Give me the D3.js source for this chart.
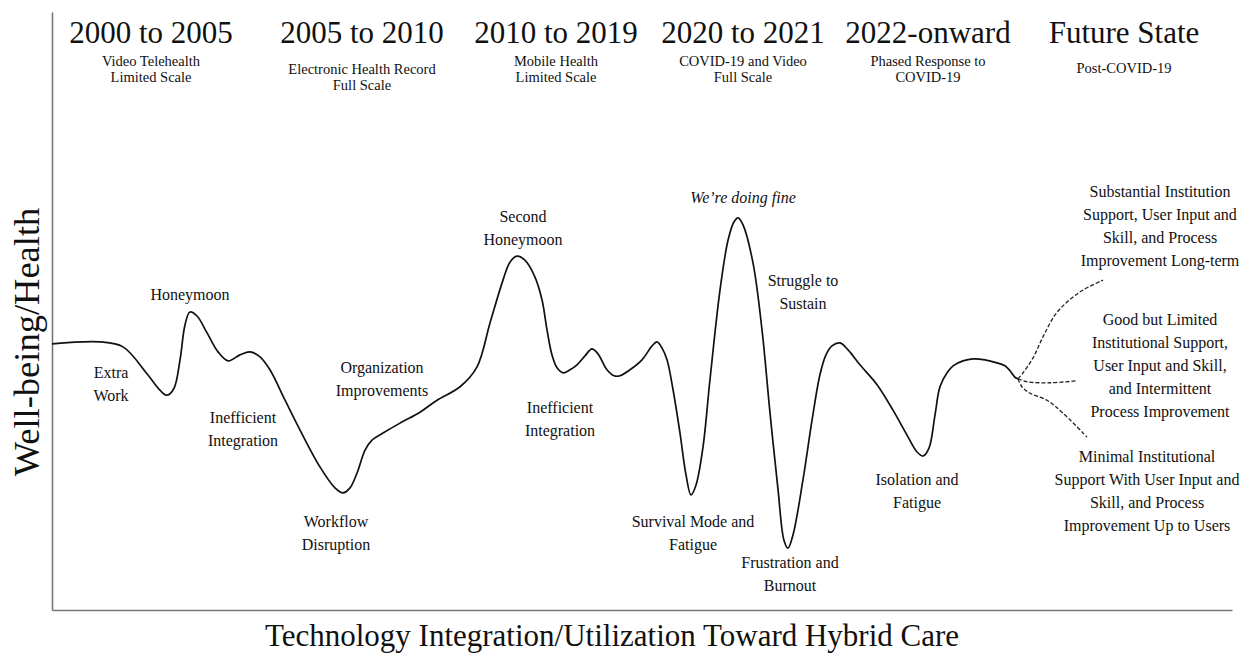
<!DOCTYPE html>
<html>
<head>
<meta charset="utf-8">
<script src="https://cdn.jsdelivr.net/npm/d3@7"></script>
<style>
  body { margin: 0; background: #fff; }
  text { font-family: "Liberation Serif", "Times New Roman", serif; fill: #111; }
</style>
</head>
<body>
<div id="canevas"></div>
<script>
// ---------------------------------------------------------------- données
// progression (0-100) and well-being level (0-12) along the main curve
const progression = [0, 4.07, 6.02, 8.05, 9.15, 9.75, 10.34, 10.85, 11.27, 11.69, 12.29, 13.14, 14.07, 14.92,
  15.93, 16.78, 17.63, 18.47, 19.75, 21.02, 22.71, 23.98, 24.66, 25.25, 25.85, 26.53, 27.12, 28.05, 29.49,
  31.19, 32.63, 34.58, 36.02, 37.12, 38.22, 38.81, 39.41, 40.08, 40.93, 41.53, 41.95, 42.37, 42.80, 43.31,
  43.90, 44.49, 45.17, 45.76, 46.27, 47.03, 47.63, 48.14, 48.98, 50.00, 50.85, 51.27, 51.69, 52.12, 52.63,
  53.22, 53.73, 54.15, 54.58, 55.17, 55.76, 56.61, 57.29, 57.80, 58.14, 58.56, 59.41, 60.17, 60.85, 61.53,
  62.03, 62.37, 62.80, 63.64, 64.41, 65.08, 65.59, 66.10, 66.78, 67.46, 68.47, 69.92, 71.27, 72.46, 73.31,
  73.81, 74.32, 74.83, 75.25, 75.85, 76.36, 77.20, 78.05, 79.07, 80.08, 80.76, 81.19, 81.61, 81.86];
const bienEtre = [5.34, 5.38, 5.28, 4.74, 4.41, 4.31, 4.45, 5.02, 5.72, 5.98, 5.90, 5.56, 5.18, 5.00,
  5.12, 5.18, 5.08, 4.82, 4.21, 3.61, 2.87, 2.45, 2.35, 2.45, 2.75, 3.21, 3.41, 3.55, 3.75,
  3.97, 4.21, 4.48, 4.88, 5.76, 6.62, 6.98, 7.10, 7.02, 6.68, 6.22, 5.62, 5.12, 4.86, 4.76,
  4.82, 4.92, 5.10, 5.24, 5.14, 4.82, 4.70, 4.70, 4.82, 5.02, 5.30, 5.38, 5.26, 5.02, 4.42,
  3.55, 2.71, 2.31, 2.51, 3.27, 4.62, 6.42, 7.42, 7.79, 7.87, 7.73, 6.96, 5.62, 3.95, 2.41,
  1.40, 1.24, 1.51, 2.61, 3.81, 4.72, 5.12, 5.30, 5.36, 5.22, 4.92, 4.52, 4.01, 3.51, 3.17,
  3.09, 3.25, 3.91, 4.48, 4.76, 4.90, 5.00, 5.04, 5.02, 4.96, 4.90, 4.80, 4.67, 4.64];

// future scenarios (dashed)
const futurHautX = [81.86, 82.29, 83.14, 83.98, 85.00, 86.02, 87.37, 89.07];
const futurHautY = [4.64, 4.76, 5.06, 5.48, 5.92, 6.18, 6.42, 6.62];
const futurMilieuX = [81.86, 82.63, 84.58, 86.86];
const futurMilieuY = [4.64, 4.58, 4.56, 4.60];
const futurBasX = [81.86, 82.20, 82.88, 84.32, 85.68, 87.71];
const futurBasY = [4.64, 4.48, 4.35, 4.21, 3.95, 3.47];

// périodes
const periodes = ["2000 to 2005", "2005 to 2010", "2010 to 2019", "2020 to 2021", "2022-onward", "Future State"];
const sousTitres = [
  ["Video Telehealth", "Limited Scale"],
  ["Electronic Health Record", "Full Scale"],
  ["Mobile Health", "Limited Scale"],
  ["COVID-19 and Video", "Full Scale"],
  ["Phased Response to", "COVID-19"],
  ["Post-COVID-19"]
];

// étiquettes le long de la courbe
const etiquettes = [
  ["Extra", "Work"],
  ["Honeymoon"],
  ["Inefficient", "Integration"],
  ["Organization", "Improvements"],
  ["Workflow", "Disruption"],
  ["Second", "Honeymoon"],
  ["Inefficient", "Integration"],
  ["We\u2019re doing fine"],
  ["Struggle to", "Sustain"],
  ["Survival Mode and", "Fatigue"],
  ["Frustration and", "Burnout"],
  ["Isolation and", "Fatigue"],
  ["Substantial Institution", "Support, User Input and", "Skill, and Process", "Improvement Long-term"],
  ["Good but Limited", "Institutional Support,", "User Input and Skill,", "and Intermittent", "Process Improvement"],
  ["Minimal Institutional", "Support With User Input and", "Skill, and Process", "Improvement Up to Users"]
];

// ---------------------------------------------------------------- mise en page
const largeur = 1249;
const hauteur = 655;
const gauche = 52, droite = 1232, haut = 12, bas = 610;

const posPeriodes = [151, 362, 556, 743, 928, 1124];
const ySousTitres = [66, 74, 66, 66, 66, 73];
const posEtiquettes = [
  [111, 378], [190, 300], [243, 423], [382, 373], [336, 527], [523, 222], [560, 413],
  [743, 203], [803, 286], [693, 527], [790, 568], [917, 485], [1160, 197], [1160, 325], [1147, 462]
];

const canevas = d3.select("#canevas")
  .append("svg")
  .attr("width", largeur)
  .attr("height", hauteur);

canevas.append("rect")
  .attr("width", "100%")
  .attr("height", "100%")
  .attr("fill", "#ffffff");

// echelles
const echelleX = d3.scaleLinear().domain([0, 100]).range([gauche, droite]);
const echelleY = d3.scaleLinear().domain([0, 12]).range([bas, haut]);

// axes (no ticks, just the lines)
canevas.append("g")
  .attr("transform", `translate(0,${bas})`)
  .call(d3.axisBottom(echelleX).tickValues([]).tickSizeOuter(0))
  .select(".domain").attr("stroke", "#777").attr("stroke-width", 1.6);

canevas.append("g")
  .attr("transform", `translate(${gauche},0)`)
  .call(d3.axisLeft(echelleY).tickValues([]).tickSizeOuter(0))
  .select(".domain").attr("stroke", "#777").attr("stroke-width", 1.6);

// courbe
const ligne = d3.line()
  .x(d => echelleX(d[0]))
  .y(d => echelleY(d[1]))
  .curve(d3.curveCatmullRom.alpha(0.5));

canevas.append("path")
  .datum(d3.zip(progression, bienEtre))
  .attr("d", ligne)
  .attr("fill", "none")
  .attr("stroke", "#111")
  .attr("stroke-width", 1.7);

[[futurHautX, futurHautY], [futurMilieuX, futurMilieuY], [futurBasX, futurBasY]].forEach(function (s) {
  canevas.append("path")
    .datum(d3.zip(s[0], s[1]))
    .attr("d", ligne)
    .attr("fill", "none")
    .attr("stroke", "#222")
    .attr("stroke-width", 1.3)
    .attr("stroke-dasharray", "4,2");
});

// titres des périodes
canevas.selectAll(".periode")
  .data(periodes)
  .enter()
  .append("text")
  .attr("class", "periode")
  .attr("x", (d, i) => posPeriodes[i])
  .attr("y", 43)
  .attr("text-anchor", "middle")
  .attr("font-size", 31)
  .text(d => d);

sousTitres.forEach(function (lignes, i) {
  const t = canevas.append("text")
    .attr("text-anchor", "middle")
    .attr("font-size", 14.5);
  lignes.forEach(function (l, j) {
    t.append("tspan")
      .attr("x", posPeriodes[i])
      .attr("y", ySousTitres[i] + j * 16)
      .text(l);
  });
});

// étiquettes
etiquettes.forEach(function (lignes, i) {
  const t = canevas.append("text")
    .attr("text-anchor", "middle")
    .attr("font-size", 16)
    .attr("font-style", i == 7 ? "italic" : null);
  lignes.forEach(function (l, j) {
    t.append("tspan")
      .attr("x", posEtiquettes[i][0])
      .attr("y", posEtiquettes[i][1] + j * 23)
      .text(l);
  });
});

// titres des axes
canevas.append("text")
  .attr("x", 612)
  .attr("y", 646)
  .attr("text-anchor", "middle")
  .attr("font-size", 31)
  .text("Technology Integration/Utilization Toward Hybrid Care");

canevas.append("text")
  .attr("transform", "translate(39,342) rotate(-90)")
  .attr("text-anchor", "middle")
  .attr("font-size", 36.5)
  .text("Well-being/Health");
</script>
</body>
</html>
